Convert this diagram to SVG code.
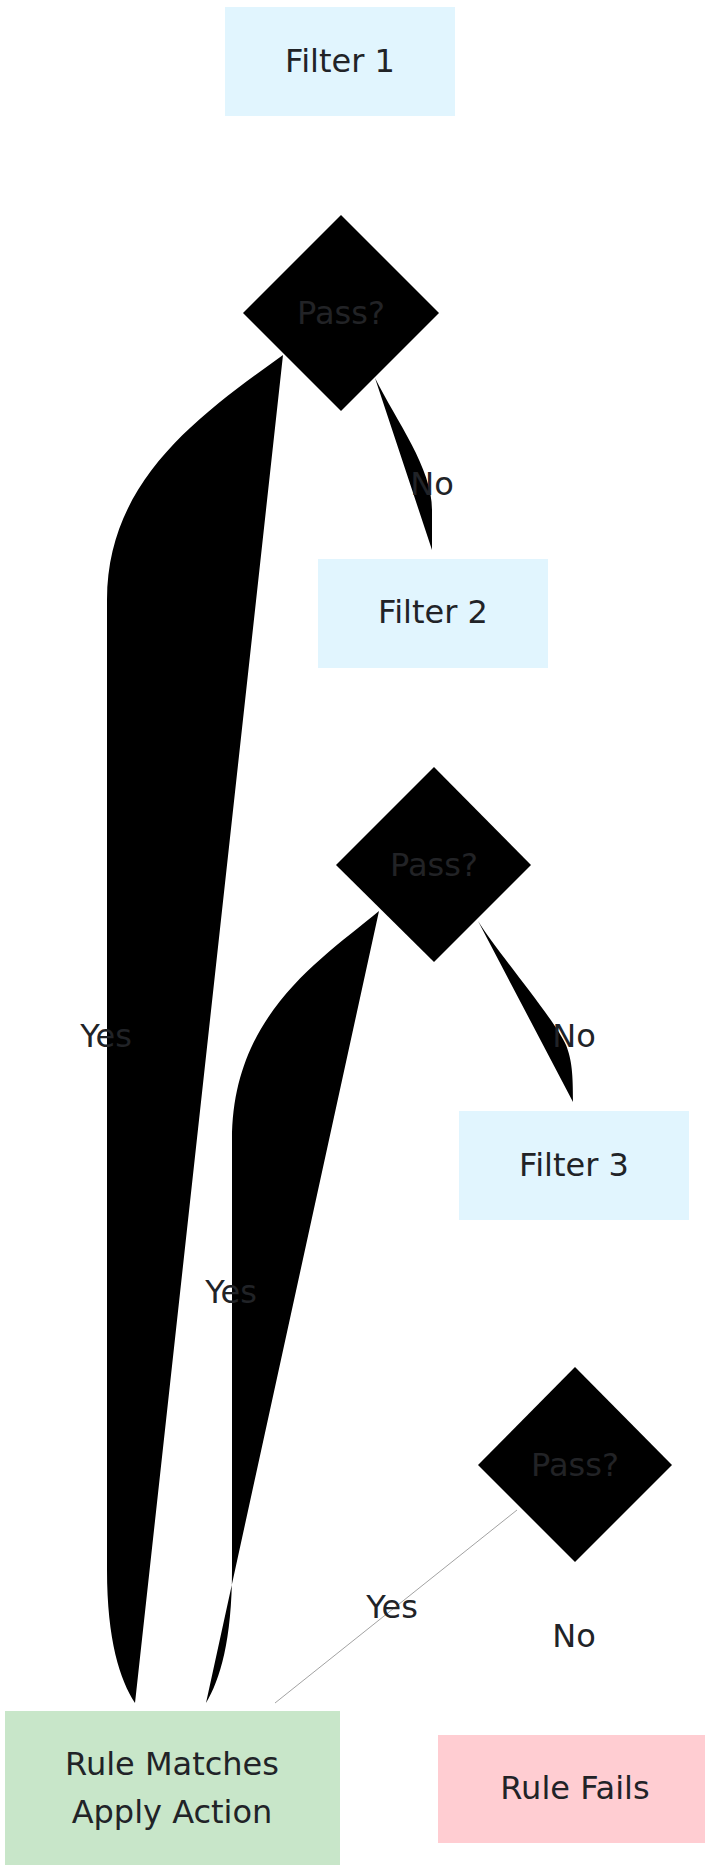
<svg xmlns="http://www.w3.org/2000/svg" width="705" height="1865" viewBox="0 0 705 1865">
<style>
text{font-family:"DejaVu Sans","Liberation Sans",sans-serif;font-size:32px;fill:#212327;text-anchor:middle}
.filter{fill:#e1f5fe}
.match{fill:#c8e6c9}
.fail{fill:#ffcdd2}
.dia{fill:#000}
.dia text{fill:#222326}
.edge{fill:#000;stroke:none}
.thin{fill:none;stroke:#444;stroke-width:0.5}
</style>
<rect width="705" height="1865" fill="#fff"/>
<g id="connectors">
<path class="edge" d="M283,355 C200,415 107,480 107,600 L107,1570 C107,1640 120,1680 135,1703 Z"/>
<path class="edge" d="M379,911 C320,960 232,1015 232,1140 L232,1570 C232,1640 220,1680 206,1703 Z"/>
<path class="edge" d="M375,378 C397,422 432,468 432,510 L432,550 Z"/>
<path class="edge" d="M478,921 C498,953 555,1020 566,1045 C572,1060 573,1075 573,1102 Z"/>
<path class="thin" d="M517,1510 L275,1703"/>
<path class="edge" d="M575,1562 L575,1725 Z"/>
<text x="106" y="1047">Yes</text>
<text x="432" y="495">No</text>
<text x="231" y="1303">Yes</text>
<text x="574" y="1047">No</text>
<text x="392" y="1618">Yes</text>
<text x="574" y="1647">No</text>
</g>
<g id="filter1"><rect class="filter" x="225" y="7" width="230" height="109"/><text x="340" y="72">Filter 1</text></g>
<g id="pass1" class="dia"><polygon points="341,215 439,313 341,411 243,313"/><text x="341" y="324">Pass?</text></g>
<g id="filter2"><rect class="filter" x="318" y="559" width="230" height="109"/><text x="433" y="623">Filter 2</text></g>
<g id="pass2" class="dia"><polygon points="434,767 531,865 434,962 336,865"/><text x="434" y="876">Pass?</text></g>
<g id="filter3"><rect class="filter" x="459" y="1111" width="230" height="109"/><text x="574" y="1176">Filter 3</text></g>
<g id="pass3" class="dia"><polygon points="575,1367 672,1465 575,1562 478,1465"/><text x="575" y="1476">Pass?</text></g>
<g id="match"><rect class="match" x="5" y="1711" width="335" height="156"/><text x="172" y="1775">Rule Matches</text><text x="172" y="1823">Apply Action</text></g>
<g id="fail"><rect class="fail" x="438" y="1735" width="274" height="108"/><text x="575" y="1799">Rule Fails</text></g>
</svg>
